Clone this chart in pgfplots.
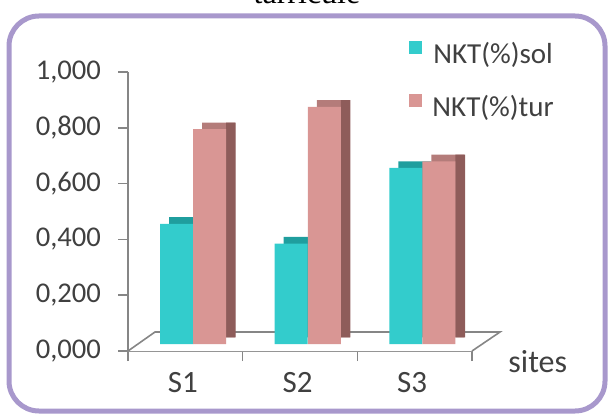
\documentclass[border=0pt]{standalone}
\usepackage{fontspec}
\setmainfont{Carlito}
\newfontfamily\titlefont{Liberation Serif}
\usepackage{pgfplots}
\usepackage{pgfplotstable}
\pgfplotsset{compat=1.18}

\definecolor{solc}{HTML}{33CCCC}
\definecolor{soltop}{HTML}{1F9E9E}
\definecolor{turc}{HTML}{D99694}
\definecolor{turtop}{HTML}{B47C7A}
\definecolor{turside}{HTML}{8E5C5A}
\definecolor{axgray}{HTML}{868686}
\definecolor{framec}{HTML}{A898CC}
\definecolor{txt}{HTML}{404040}

\pgfplotstableread{
x sol tur
0 0.431 0.770
1 0.360 0.850
2 0.631 0.655
}\data

\begin{document}
\begin{tikzpicture}[x=0.5pt,y=-0.5pt]
\useasboundingbox (0,0) rectangle (614,416);
\node[font=\titlefont\fontsize{16}{18}\selectfont, anchor=base, inner sep=0pt] at (307,4) {tarricule};
\draw[framec, line width=2.5pt, rounded corners=15pt] (9,16) rectangle (605,411);
\begin{axis}[at={(64pt,-175.5pt)}, anchor=south west, scale only axis,
  width=172pt, height=139.5pt,
  xmin=-0.5, xmax=2.5, ymin=0, ymax=1, clip=false,
  axis x line*=bottom, axis y line*=left,
  axis line style={axgray, line width=0.8pt},
  every tick/.style={axgray, line width=0.8pt},
  tick align=outside,
  major tick length=5pt,
  ytick={0,0.2,0.4,0.6,0.8,1},
  yticklabel style={font=\fontsize{14.3}{16}\selectfont, text=txt, xshift=-5pt,
    /pgf/number format/.cd, fixed, fixed zerofill, precision=3, use comma, assume math mode=true},
  xtick={-0.5,0.5,1.5,2.5}, xticklabels={},
  extra x ticks={0,1,2}, extra x tick labels={S1,S2,S3},
  extra x tick style={major tick length=0pt,
    tick label style={font=\fontsize{15.5}{17}\selectfont, text=txt, yshift=-7pt, xshift=-1.25pt}},
  legend style={at={(0.817,1.122)}, anchor=north west, draw=none, fill=none,
    font=\fontsize{14.5}{16}\selectfont, text=txt, row sep=10.5pt, inner sep=0pt,
    /tikz/every odd column/.append style={column sep=3pt}},
  legend image code/.code={\fill[#1] (0pt,-3.25pt) rectangle (6.5pt,3.25pt);},
]
\draw[axgray, line width=0.8pt, fill=white] (axis cs:-0.5,0) -- (axis cs:-0.265,0.068) -- (axis cs:2.744,0.068) -- (axis cs:2.5,0);
% depth faces
\addplot[ybar, forget plot, draw=none, fill=soltop, bar width=16.5pt, bar shift=0.1pt, yshift=6.8pt] table[x=x,y=sol]{\data};
\addplot[ybar, forget plot, draw=none, fill=turtop, bar width=16.5pt, bar shift=16.65pt, yshift=6.8pt] table[x=x,y=tur]{\data};
\addplot[ybar, forget plot, draw=none, fill=turside, bar width=4.8pt, bar shift=22.8pt, yshift=6.8pt] table[x=x,y=tur]{\data};
% front faces
\addplot[ybar, draw=none, fill=solc, bar width=16.5pt, bar shift=-4.4pt, yshift=3.5pt] table[x=x,y=sol]{\data};
\addlegendentry{NKT(\%)sol}
\addplot[ybar, draw=none, fill=turc, bar width=16.5pt, bar shift=12.15pt, yshift=3.5pt] table[x=x,y=tur]{\data};
\addlegendentry{NKT(\%)tur}
\end{axis}
\node[font=\fontsize{16}{18}\selectfont, text=txt, anchor=base west, inner sep=0pt] at (508,372) {sites};
\end{tikzpicture}
\end{document}
